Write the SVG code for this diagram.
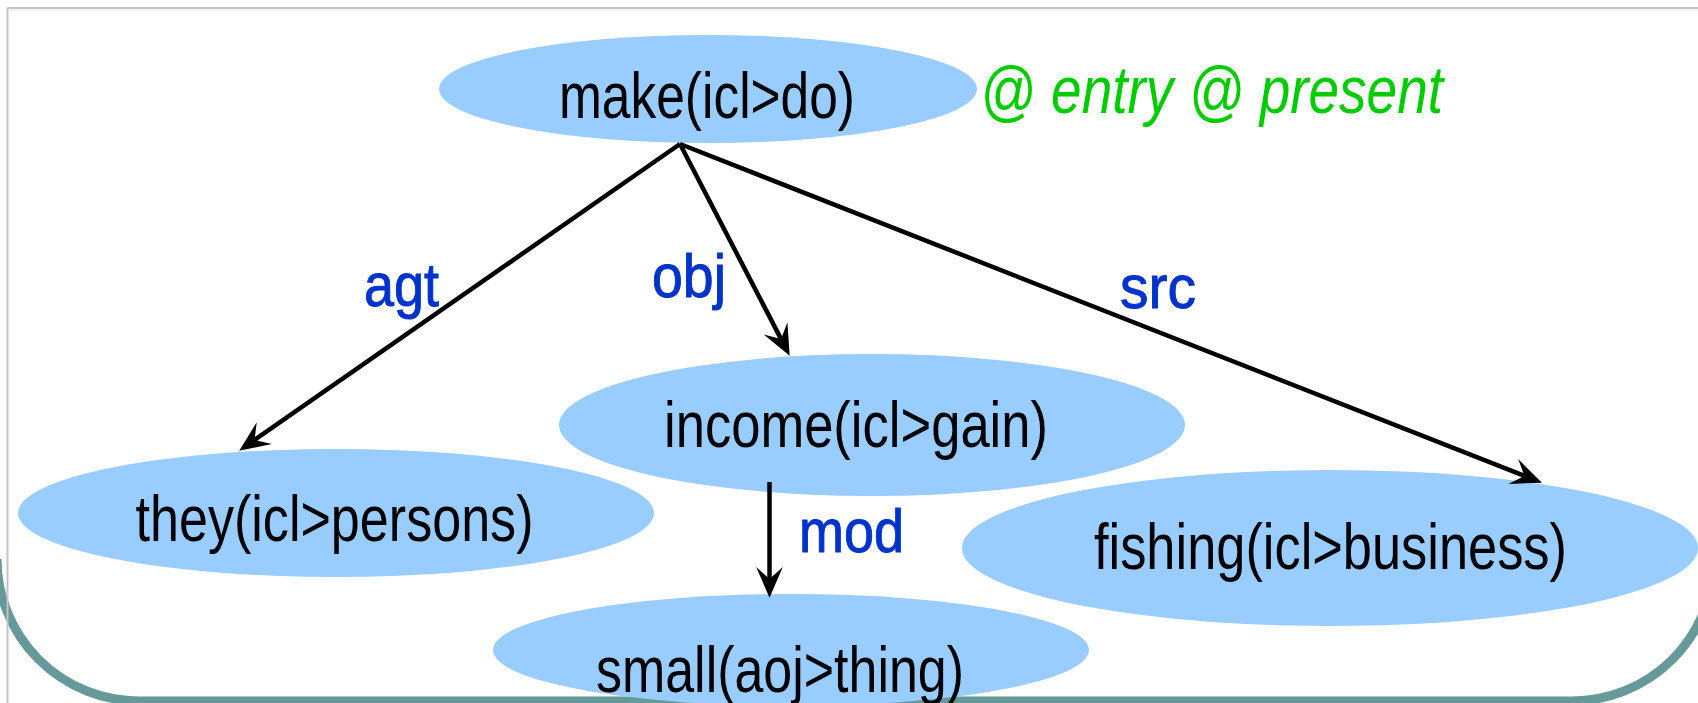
<svg xmlns="http://www.w3.org/2000/svg" width="1698" height="703" viewBox="0 0 1698 703">
  <style>
    .node ellipse { fill: #99CCFF; stroke: none; }
    .node text { font-family: "Liberation Sans Narrow", "Liberation Sans", Arial, sans-serif; font-size: 65px; fill: #000000; }
    .label { font-family: "Liberation Sans", Arial, sans-serif; font-size: 62px; fill: #0033CC; stroke: #0033CC; stroke-width: 1; }
    .edge { stroke: #000000; stroke-width: 4.5; fill: none; marker-end: url(#arrow); }
    .attr { font-family: "Liberation Sans Narrow", "Liberation Sans", Arial, sans-serif; font-size: 66px; font-style: italic; fill: #00CC00; }
  </style>
  <defs>
    <marker id="arrow" markerUnits="userSpaceOnUse" markerWidth="40" markerHeight="40" viewBox="-12 -12 30 24" refX="0" refY="0" orient="auto">
      <path d="M14,0 L-9,-10 L0,0 L-9,10 Z" fill="#000000"/>
    </marker>
    <clipPath id="page">
      <rect x="0" y="0" width="1698" height="703"/>
    </clipPath>
  </defs>

  <!-- page background -->
  <rect x="0" y="0" width="1698" height="703" fill="#ffffff"/>

  <!-- slide panel: rounded teal border along the lower corners -->
  <path clip-path="url(#page)" d="M-3,559 A142,142 0 0 0 139,701 L1572,701 A142,142 0 0 0 1714,559" fill="none" stroke="#669999" stroke-width="9"/>

  <!-- thin grey frame -->
  <g id="frame" fill="none">
    <line x1="7.5" y1="8" x2="7.5" y2="703" stroke="#c4c4c4" stroke-width="2"/>
    <line x1="7" y1="8" x2="1698" y2="8" stroke="#c4c4c4" stroke-width="2"/>
    <line x1="8" y1="10" x2="1698" y2="10" stroke="#e4e4e4" stroke-width="1"/>
  </g>

  <!-- nodes -->
  <g id="node-make" class="node">
    <ellipse cx="708" cy="89" rx="269" ry="54"/>
    <text x="559" y="118" textLength="296" lengthAdjust="spacingAndGlyphs">make(icl&gt;do)</text>
  </g>
  <text id="attributes" class="attr" x="980" y="113" textLength="463" lengthAdjust="spacingAndGlyphs">@ entry @ present</text>

  <g id="node-they" class="node">
    <ellipse cx="336" cy="513" rx="318" ry="64"/>
    <text x="135.5" y="541" textLength="398" lengthAdjust="spacingAndGlyphs">they(icl&gt;persons)</text>
  </g>

  <g id="node-income" class="node">
    <ellipse cx="872" cy="425" rx="313" ry="71"/>
    <text x="664" y="447" textLength="384" lengthAdjust="spacingAndGlyphs">income(icl&gt;gain)</text>
  </g>

  <g id="node-fishing" class="node">
    <ellipse cx="1330" cy="548" rx="368" ry="78"/>
    <text x="1094" y="569" textLength="473" lengthAdjust="spacingAndGlyphs">fishing(icl&gt;business)</text>
  </g>

  <g id="node-small" class="node">
    <ellipse cx="791" cy="650" rx="298" ry="56"/>
    <text x="596" y="692" textLength="368" lengthAdjust="spacingAndGlyphs">small(aoj&gt;thing)</text>
  </g>

  <!-- connectors, drawn over the ellipses -->
  <g id="connectors">
    <line class="edge" x1="680" y1="144" x2="254.5" y2="440"/>
    <line class="edge" x1="680" y1="144" x2="781.1" y2="339.1"/>
    <line class="edge" x1="680" y1="144" x2="1524.5" y2="475.9"/>
    <line class="edge" x1="769.5" y1="482" x2="769.5" y2="579"/>
    <text class="label" x="364" y="306" textLength="75" lengthAdjust="spacingAndGlyphs">agt</text>
    <text class="label" x="652" y="297" textLength="74" lengthAdjust="spacingAndGlyphs">obj</text>
    <text class="label" x="1120" y="308" textLength="76" lengthAdjust="spacingAndGlyphs">src</text>
    <text class="label" x="799" y="552" textLength="105" lengthAdjust="spacingAndGlyphs">mod</text>
  </g>
</svg>
